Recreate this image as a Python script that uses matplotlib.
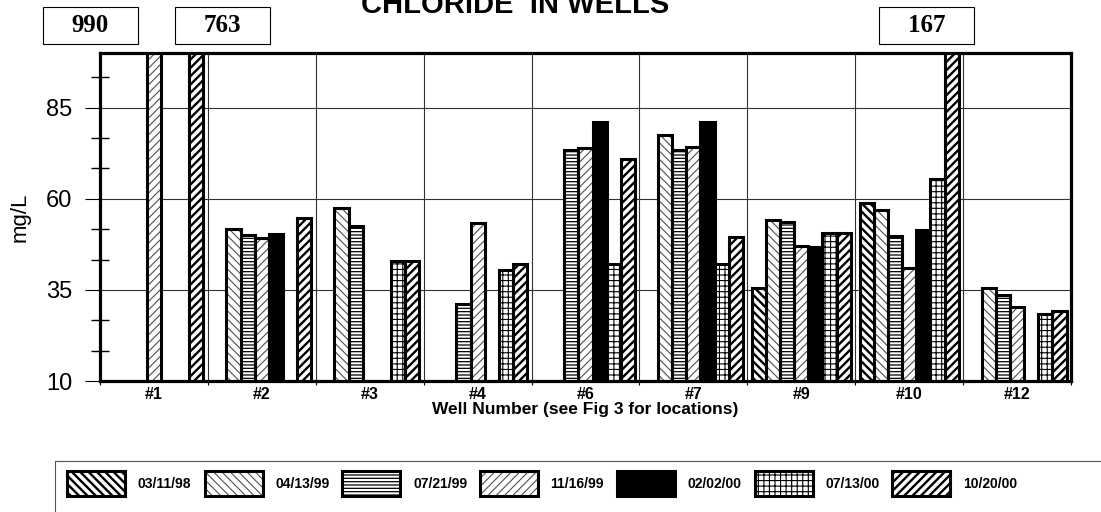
import numpy as np
import matplotlib
matplotlib.use('Agg')
import matplotlib.pyplot as plt
from matplotlib.patches import Rectangle
from matplotlib.ticker import FixedLocator

plt.rcParams['font.family'] = ['Liberation Sans', 'DejaVu Sans']

nan = np.nan

wells = ['#1', '#2', '#3', '#4', '#6', '#7', '#9', '#10', '#12']
dates = ['03/11/98', '04/13/99', '07/21/99', '11/16/99', '02/02/00', '07/13/00', '10/20/00']

# chloride, mg/L, one list per sampling date (nan = not sampled)
cl_031198 = [nan, nan, nan, nan, nan, nan, 35.6, 58.8, nan]
cl_041399 = [nan, 51.6, 57.6, nan, nan, 77.6, 54.3, 57.0, 35.6]
cl_072199 = [nan, 50.1, 52.5, 31.1, 73.3, 73.3, 53.6, 49.9, 33.5]
cl_111699 = [990, 49.2, nan, 53.4, 74.0, 74.2, 47.0, 41.0, 30.4]
cl_020200 = [nan, 50.3, nan, nan, 81.2, 81.2, 46.7, 51.3, nan]
cl_071300 = [nan, nan, 42.8, 40.4, 42.0, 42.0, 50.5, 65.3, 28.3]
cl_102000 = [763, 54.6, 42.8, 42.2, 70.9, 49.4, 50.5, 167, 29.2]
series = [cl_031198, cl_041399, cl_072199, cl_111699, cl_020200, cl_071300, cl_102000]

# fill style per date: (hatch, hatch colour, hatch linewidth, face)
styles = [
    ('\\\\\\\\', 'black', 1.7, 'white'),
    ('\\\\\\\\', '#505050', 0.8, 'white'),
    ('-----', 'black', 0.9, 'white'),
    ('////', '#505050', 0.8, 'white'),
    (None, 'black', 0.0, 'black'),
    ('+++', 'black', 0.8, 'white'),
    ('////', 'black', 1.7, 'white'),
]

ymin, ymax = 10, 100
W, H = 1101, 512

fig = plt.figure(figsize=(W / 100, H / 100), dpi=100)
ax = fig.add_axes([100 / W, 1 - 381 / H, 971 / W, 328 / H])

x = np.arange(len(wells))
w = 0.131


def fill_patch(p, st):
    hatch, hc, hlw, face = st
    p.set_facecolor(face)
    if hatch:
        p.set_hatch(hatch)
        p.set_edgecolor(hc)
        if hasattr(p, 'set_hatch_linewidth'):
            p.set_hatch_linewidth(hlw)


for i, (vals, st) in enumerate(zip(series, styles)):
    xs = x + (i - 3) * w
    with plt.rc_context({'hatch.linewidth': st[2]}):
        bars = ax.bar(xs, vals, w, color=st[3], linewidth=0, zorder=3)
        for b in bars:
            fill_patch(b, st)
            b.set_linewidth(0)
    ax.bar(xs, vals, w, fill=False, edgecolor='black', linewidth=2.2, zorder=4)

ax.set_xlim(-0.5, len(wells) - 0.5)
ax.set_ylim(ymin, ymax)

ax.set_yticks([10, 35, 60, 85])
ax.yaxis.set_minor_locator(FixedLocator(np.arange(10, 100, 25 / 3)))
ax.tick_params(axis='y', which='major', direction='out', length=11, width=0.8,
               pad=9, labelsize=17)
ax.tick_params(axis='y', which='minor', direction='inout', length=13, width=1.0)

ax.set_xticks(x)
ax.set_xticklabels(wells, fontsize=11.5, fontweight='bold')
ax.xaxis.set_minor_locator(FixedLocator(np.arange(-0.5, len(wells), 1.0)))
ax.tick_params(axis='x', which='major', length=0, pad=4)
ax.tick_params(axis='x', which='minor', direction='out', length=3, width=0.8)

ax.grid(axis='y', which='major', color='#333333', linewidth=0.8, zorder=0)
ax.grid(axis='x', which='minor', color='#333333', linewidth=0.8, zorder=0)
ax.set_axisbelow(True)
for s in ax.spines.values():
    s.set_linewidth(2.3)
    s.set_zorder(5)

ax.set_xlabel('Well Number (see Fig 3 for locations)', fontsize=12.5,
              fontweight='bold', labelpad=0.5)

fig.text(20 / W, 1 - 217 / H, 'mg/L', rotation=90, fontsize=16,
         ha='center', va='center')
fig.text(515 / W, 1 - 13 / H, 'CHLORIDE  IN WELLS', fontsize=21,
         fontweight='bold', ha='center', va='baseline')

# pixel-space overlay for value boxes and the legend strip
ov = fig.add_axes([0, 0, 1, 1], zorder=-1)
ov.set_xlim(0, W)
ov.set_ylim(H, 0)
ov.axis('off')

# off-scale values written in boxes above the plot
boxes = [(43, cl_111699[0]), (175, cl_102000[0]), (879, cl_102000[7])]
for bx, v in boxes:
    ov.add_patch(Rectangle((bx, 7), 95, 37, facecolor='white',
                           edgecolor='black', linewidth=0.8))
    ov.text(bx + 47.5, 26, f'{v:.0f}', ha='center', va='center', fontsize=18,
            fontweight='bold', family=['Liberation Serif', 'DejaVu Serif'])

# legend strip
ov.add_patch(Rectangle((55, 461), 1070, 70, fill=False, edgecolor='#555555',
                       linewidth=0.8))
for i, (lab, st) in enumerate(zip(dates, styles)):
    lx = 67 + i * 137.5
    with plt.rc_context({'hatch.linewidth': st[2]}):
        p = Rectangle((lx, 471), 58, 25, linewidth=0)
        fill_patch(p, st)
        ov.add_patch(p)
    ov.add_patch(Rectangle((lx, 471), 58, 25, fill=False, edgecolor='black',
                           linewidth=2.2))
    ov.text(lx + 71, 484, lab, ha='left', va='center', fontsize=10,
            fontweight='bold')

fig.savefig('out.png', dpi=100)
